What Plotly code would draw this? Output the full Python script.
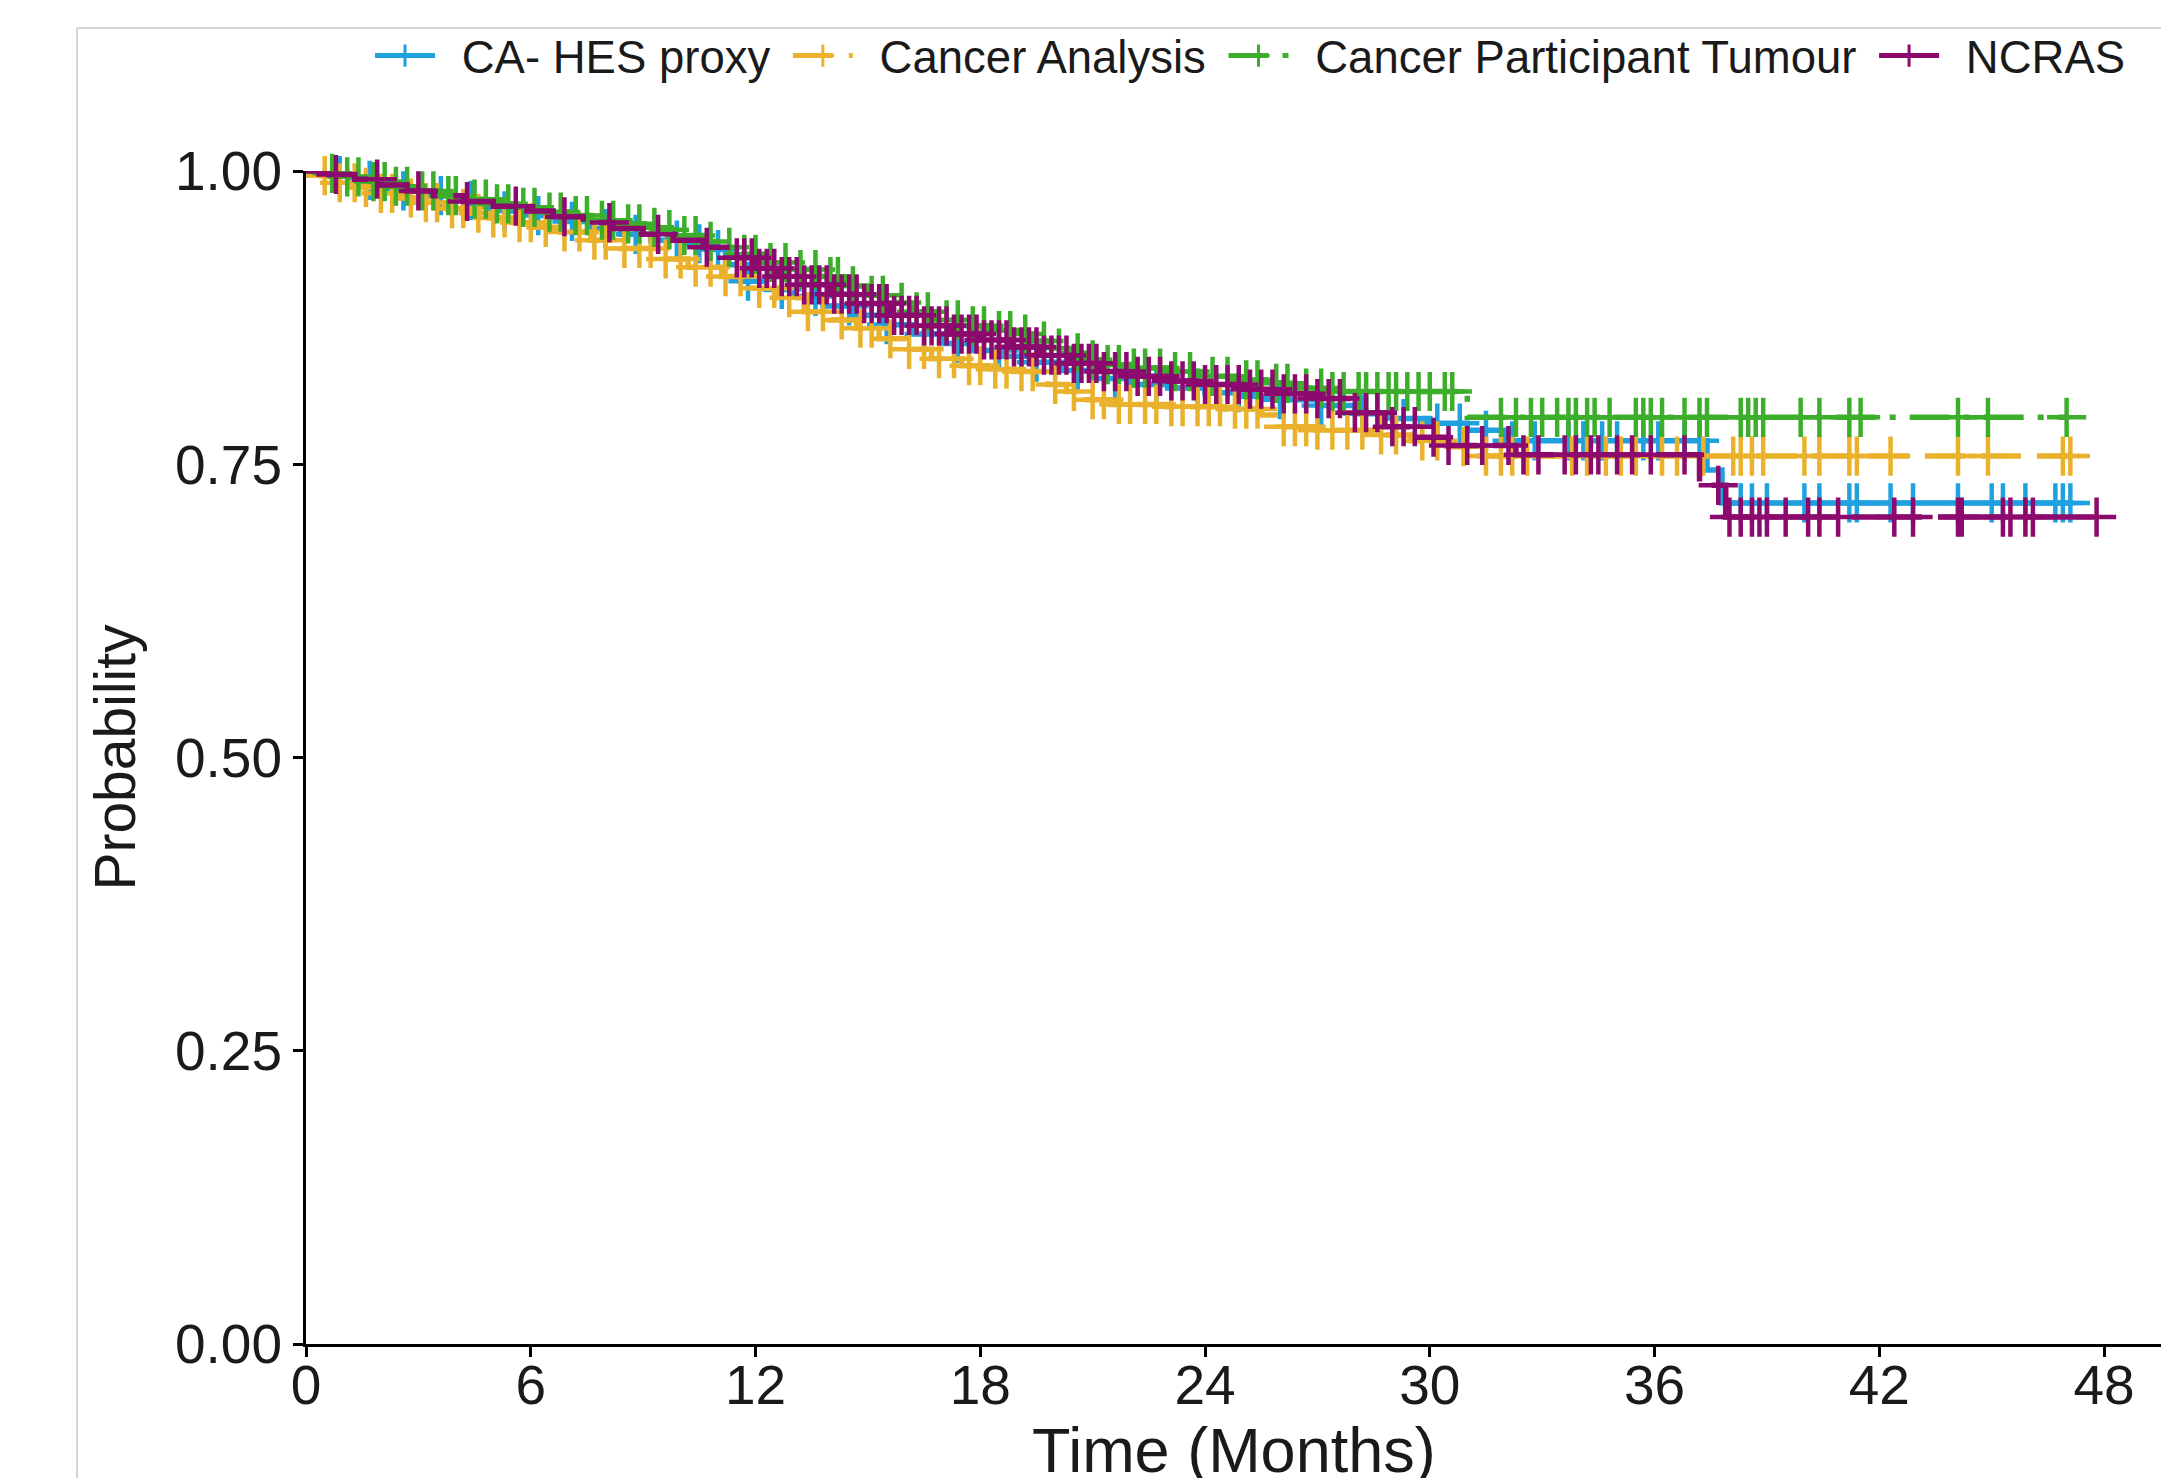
import numpy as np
import plotly.graph_objects as go

# ---------------- data ----------------
series_names = ["CA- HES proxy", "Cancer Analysis", "Cancer Participant Tumour", "NCRAS"]
series_colors = ["#1FA1DF", "#EAB22C", "#3DAE2B", "#8C0A6E"]
series_dash = ["solid", "40px,16px", "40px,14px,6px,14px", "70px,16px"]
x_title = "Time (Months)"
y_title = "Probability"

# CA- HES proxy
hes_time = [0, 0.6, 1.2, 1.8, 2.5, 3.2, 3.9, 4.6, 5.3, 6.0, 6.8, 7.6, 8.4, 9.2, 10.0, 10.7,
            11.2, 11.6, 12.3, 13.0, 13.8, 14.6, 15.4, 16.2, 17.0, 17.8, 18.6, 19.4, 20.2,
            21.0, 22.0, 23.0, 24.0, 25.0, 26.0, 27.0, 28.0, 29.0, 30.0, 31.0, 32.0, 37.4, 37.8]
hes_surv = [1.0, 0.996, 0.992, 0.988, 0.983, 0.979, 0.975, 0.970, 0.966, 0.962, 0.957, 0.951,
            0.946, 0.941, 0.938, 0.933, 0.920, 0.906, 0.899, 0.893, 0.885, 0.877, 0.869, 0.861,
            0.853, 0.847, 0.842, 0.837, 0.830, 0.823, 0.818, 0.815, 0.811, 0.808, 0.805, 0.800,
            0.793, 0.789, 0.785, 0.779, 0.770, 0.745, 0.717]
hes_censor = [0.9, 1.7, 2.6, 3.6, 4.4, 5.3, 6.2, 7.1, 8.0, 8.8, 9.9, 10.5, 11.0, 11.8, 12.7,
              13.6, 14.5, 15.5, 16.5, 17.4, 18.5, 19.5, 20.6, 21.6, 22.7, 23.8, 24.9, 26.0,
              27.1, 28.2, 29.3, 30.2, 30.8, 31.5, 32.2, 32.8, 33.7, 34.1, 34.6, 35.0, 35.7,
              36.1, 36.8, 37.2, 38.3, 38.6, 39.0, 40.0, 40.4, 41.2, 41.4, 42.3, 42.9, 44.1,
              45.0, 45.3, 45.9, 46.7, 46.9, 47.1]

# Cancer Analysis
ca_time = [0, 0.4, 0.9, 1.4, 1.9, 2.5, 3.1, 3.7, 4.3, 4.9, 5.5, 6.1, 6.8, 7.6, 8.4, 9.4, 10.2,
           11.1, 11.9, 12.6, 13.3, 14.0, 14.7, 15.3, 16.0, 16.7, 17.5, 18.2, 18.9, 19.8, 20.3,
           20.7, 21.5, 23.0, 24.5, 25.5, 26.1, 27.0, 28.5, 29.5, 30.5, 31.2]
ca_surv = [1.0, 0.996, 0.990, 0.986, 0.981, 0.977, 0.973, 0.968, 0.964, 0.960, 0.956, 0.952,
           0.948, 0.941, 0.934, 0.925, 0.918, 0.910, 0.900, 0.892, 0.880, 0.873, 0.866, 0.857,
           0.848, 0.840, 0.834, 0.831, 0.829, 0.818, 0.812, 0.805, 0.801, 0.799, 0.797, 0.792,
           0.782, 0.779, 0.775, 0.770, 0.765, 0.757]
ca_censor = [0.5, 0.9, 1.3, 1.6, 2.0, 2.3, 2.8, 3.2, 3.5, 3.9, 4.2, 4.6, 5.0, 5.3, 5.7, 6.0,
             6.4, 6.9, 7.3, 7.7, 8.0, 8.5, 8.9, 9.2, 9.6, 10.0, 10.4, 10.8, 11.2, 11.6, 12.1,
             12.5, 12.9, 13.4, 13.8, 14.3, 14.8, 15.1, 15.6, 16.1, 16.5, 16.9, 17.3, 17.7,
             18.0, 18.4, 18.7, 19.1, 19.4, 20.0, 20.5, 21.0, 21.3, 21.7, 22.0, 22.4, 22.7,
             23.1, 23.4, 23.8, 24.1, 24.4, 24.8, 25.1, 25.4, 26.1, 26.4, 26.7, 27.0, 27.4,
             27.8, 28.2, 28.7, 29.1, 29.8, 30.2, 30.9, 31.5, 31.9, 32.2, 32.6, 33.8, 34.2,
             34.7, 35.1, 35.5, 36.2, 36.6, 37.3, 38.1, 38.3, 38.6, 38.9, 40.0, 40.4, 41.2,
             41.4, 42.3, 44.1, 44.9, 46.9, 47.1]

# Cancer Participant Tumour
cpt_time = [0, 0.5, 1.0, 1.6, 2.2, 2.8, 3.5, 4.2, 4.9, 5.6, 6.3, 7.0, 7.6, 8.3, 9.0, 9.4, 10.0,
            10.6, 11.1, 11.6, 12.2, 12.9, 13.7, 14.4, 15.0, 15.6, 16.2, 16.8, 17.5, 18.3, 19.0,
            19.4, 19.9, 20.3, 20.8, 21.2, 22.0, 23.0, 24.0, 24.8, 25.6, 26.4, 27.2, 31.0]
cpt_surv = [1.0, 0.998, 0.995, 0.991, 0.987, 0.983, 0.979, 0.976, 0.972, 0.969, 0.965, 0.962,
            0.958, 0.955, 0.952, 0.950, 0.945, 0.940, 0.935, 0.929, 0.922, 0.916, 0.910, 0.902,
            0.894, 0.888, 0.880, 0.873, 0.868, 0.864, 0.861, 0.855, 0.849, 0.845, 0.839, 0.835,
            0.832, 0.829, 0.825, 0.822, 0.819, 0.815, 0.812, 0.790]
cpt_censor = [0.7, 1.1, 1.4, 1.8, 2.1, 2.4, 2.7, 3.1, 3.4, 3.8, 4.0, 4.5, 4.8, 5.1, 5.4, 5.8,
              6.1, 6.5, 6.8, 7.2, 7.5, 7.9, 8.2, 8.6, 8.9, 9.3, 9.7, 10.1, 10.4, 10.8, 11.3,
              11.7, 12.0, 12.4, 12.8, 13.2, 13.6, 14.0, 14.2, 14.6, 15.1, 15.4, 15.9, 16.3,
              16.6, 17.1, 17.4, 17.8, 18.1, 18.5, 18.8, 19.2, 19.7, 20.1, 20.6, 21.0, 21.4,
              21.7, 22.1, 22.4, 22.8, 23.2, 23.6, 24.2, 24.6, 25.1, 25.4, 25.9, 26.2, 26.7,
              27.1, 27.4, 27.7, 28.1, 28.3, 28.6, 28.9, 29.1, 29.4, 29.7, 30.0, 30.4, 30.6,
              31.9, 32.3, 32.7, 33.0, 33.4, 33.7, 33.9, 34.2, 34.4, 34.8, 35.5, 35.7, 35.9,
              36.2, 36.8, 37.2, 37.4, 38.3, 38.5, 38.7, 38.9, 39.9, 40.4, 41.2, 41.5, 44.1,
              44.9, 47.0]

# NCRAS
ncras_time = [0, 0.6, 1.3, 2.0, 2.7, 3.4, 4.2, 5.0, 5.8, 6.6, 7.4, 8.2, 9.0, 9.8, 10.6, 11.4,
              12.0, 12.6, 13.3, 14.0, 14.8, 15.6, 16.4, 17.2, 18.0, 18.8, 19.6, 20.4, 21.2,
              22.0, 23.0, 24.0, 25.0, 26.0, 27.0, 27.9, 28.8, 29.7, 30.5, 32.3, 37.2, 37.9]
ncras_surv = [1.0, 0.997, 0.993, 0.988, 0.983, 0.979, 0.974, 0.970, 0.966, 0.961, 0.956,
              0.951, 0.946, 0.941, 0.935, 0.926, 0.917, 0.910, 0.903, 0.895, 0.887, 0.877,
              0.868, 0.861, 0.856, 0.850, 0.843, 0.836, 0.829, 0.825, 0.821, 0.818, 0.814,
              0.810, 0.806, 0.794, 0.782, 0.773, 0.766, 0.758, 0.732, 0.705]
ncras_censor = [0.8, 1.9, 3.0, 4.3, 5.6, 6.9, 8.1, 9.4, 10.7, 11.5, 11.7, 11.9, 12.1, 12.3,
                12.5, 12.7, 12.9, 13.1, 13.3, 13.5, 13.7, 13.9, 14.1, 14.3, 14.5, 14.7, 14.9,
                15.1, 15.3, 15.5, 15.7, 15.9, 16.1, 16.3, 16.5, 16.7, 16.9, 17.1, 17.3, 17.5,
                17.7, 17.9, 18.1, 18.3, 18.5, 18.7, 18.9, 19.1, 19.3, 19.5, 19.7, 19.9, 20.1,
                20.3, 20.5, 20.7, 20.9, 21.1, 21.3, 21.6, 21.9, 22.2, 22.5, 22.8, 23.1, 23.4,
                23.7, 24.0, 24.3, 24.6, 24.9, 25.2, 25.5, 25.8, 26.1, 26.4, 26.7, 27.0, 27.3,
                27.6, 28.0, 28.3, 28.6, 29.0, 29.3, 29.6, 30.1, 30.5, 31.0, 31.4, 32.1, 32.5,
                32.9, 33.6, 33.9, 34.3, 34.5, 35.0, 35.4, 35.9, 36.8, 37.7, 38.0, 38.3, 38.6,
                38.8, 39.0, 39.5, 40.1, 40.4, 40.9, 42.4, 42.9, 44.1, 44.2, 45.3, 45.5, 45.9,
                46.1, 47.8]

x_ticks = [0, 6, 12, 18, 24, 30, 36, 42, 48]
y_ticks = [0.0, 0.25, 0.5, 0.75, 1.0]
y_ticktext = ["0.00", "0.25", "0.50", "0.75", "1.00"]

series = [
    (hes_time, hes_surv, hes_censor),
    (ca_time, ca_surv, ca_censor),
    (cpt_time, cpt_surv, cpt_censor),
    (ncras_time, ncras_surv, ncras_censor),
]

# ---------------- layout geometry ----------------
W, H = 2161, 1478
ML, MR, MT, MB = 306, 0, 171, 134
FONT = "Liberation Sans, Arial, Helvetica, sans-serif"
TXT = "#1a1a1a"

fig = go.Figure()

for name, color, dash, (t, s, c) in zip(series_names, series_colors, series_dash, series):
    t = np.asarray(t, float)
    s = np.asarray(s, float)
    c = np.asarray(c, float)
    t_end = max(t[-1], c.max())
    lx = np.append(t, t_end)
    ly = np.append(s, s[-1])
    idx = np.searchsorted(t, c, side="right") - 1
    cy = s[idx]
    fig.add_trace(go.Scatter(
        x=lx, y=ly, mode="lines", line=dict(color=color, width=5.5, dash=dash, shape="hv"),
        showlegend=False, hoverinfo="skip", cliponaxis=False))
    fig.add_trace(go.Scatter(
        x=c, y=cy, mode="markers",
        marker=dict(symbol="cross-thin", size=28, line=dict(color=color, width=4.5)),
        showlegend=False, hoverinfo="skip", cliponaxis=False))
    # legend entry (label padded so the legend spacing follows the picture)
    fig.add_trace(go.Scatter(
        x=[None], y=[None], mode="lines+markers", name=" \u2009" + name + " ",
        line=dict(color=color, width=5, dash=dash),
        marker=dict(symbol="cross-thin", size=16, line=dict(color=color, width=3))))

# light frame of the original picture
fx = (77 - ML) / (W - ML - MR)
fy = (H - MB - 28) / (H - MT - MB)
fig.add_shape(type="line", xref="paper", yref="paper", x0=fx, x1=1.0, y0=fy, y1=fy,
              line=dict(color="#d6d6d6", width=2))
fig.add_shape(type="line", xref="paper", yref="paper", x0=fx, x1=fx, y0=fy,
              y1=-MB / (H - MT - MB), line=dict(color="#d6d6d6", width=2))

# x-axis title (placed as an annotation so it can sit where the picture has it)
fig.add_annotation(text=x_title, xref="paper", yref="paper", x=0.5, y=0,
                   xanchor="center", yanchor="middle", yshift=-106, showarrow=False,
                   font=dict(size=63, family=FONT, color=TXT))

fig.update_layout(
    width=W, height=H,
    margin=dict(l=ML, r=MR, t=MT, b=MB, pad=0),
    paper_bgcolor="white", plot_bgcolor="white",
    font=dict(family=FONT, color=TXT),
    showlegend=True,
    legend=dict(orientation="h", xref="container", yref="container",
                x=370 / W, xanchor="left", y=1 - 56 / H, yanchor="middle",
                font=dict(size=45.5, family=FONT, color=TXT), itemwidth=60,
                bgcolor="rgba(0,0,0,0)", traceorder="normal"),
    xaxis=dict(range=[0, (W - ML - MR) / 37.46], tickvals=x_ticks, ticks="outside",
               ticklen=10, tickwidth=3, tickcolor="black", showline=True, linewidth=3,
               linecolor="black", showgrid=False, zeroline=False, automargin=False,
               ticklabelstandoff=-19,
               tickfont=dict(size=55, family=FONT, color=TXT)),
    yaxis=dict(range=[0, 1], tickvals=y_ticks, ticktext=y_ticktext, ticks="outside",
               ticklen=10, tickwidth=3, tickcolor="black", showline=True, linewidth=3,
               linecolor="black", showgrid=False, zeroline=False, automargin=False,
               tickfont=dict(size=55, family=FONT, color=TXT),
               title=dict(text=y_title, font=dict(size=57, family=FONT, color=TXT),
                          standoff=22)),
)

fig.write_html("out.html", config={"displayModeBar": False})
with open("out.html", "r", encoding="utf-8") as f:
    html = f.read()
html = html.replace("<body>", '<body style="margin:0;padding:0;overflow:hidden">', 1)
with open("out.html", "w", encoding="utf-8") as f:
    f.write(html)
